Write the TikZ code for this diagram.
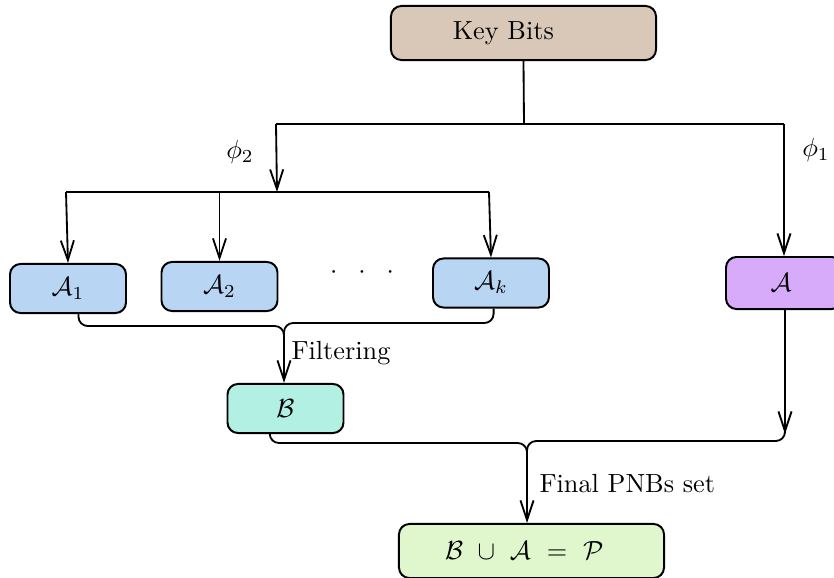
\documentclass[tikz,border=0pt]{standalone}
\usetikzlibrary{arrows.meta}
\definecolor{kbcol}{HTML}{D9C7B8}
\definecolor{acol}{HTML}{B9D5F4}
\definecolor{pcol}{HTML}{D7ABFA}
\definecolor{bcol}{HTML}{B1F0E3}
\definecolor{fcol}{HTML}{E0F7CD}
\tikzset{
  box/.style={draw=black, line width=0.75pt, rounded corners=4pt, inner sep=0pt, align=center},
  smallbox/.style={box, minimum width=1.554cm, minimum height=0.657cm},
  bigbox/.style={box, minimum width=3.551cm, minimum height=0.724cm},
  conn/.style={line width=0.7pt},
  arr/.style={conn, -{Straight Barb[length=7.5pt,width=5pt]}},
  brace/.style={conn, rounded corners=3.5pt},
}
\begin{document}
\begin{tikzpicture}[x=0.0134cm, y=-0.0134cm]
\useasboundingbox (0,0) rectangle (834,578);
% nodes
\node[bigbox, fill=kbcol] (kb) at (523.5,33) {Key Bits\hspace{0.54cm}};
\node[smallbox, fill=acol] (a1) at (68,288.5) {$\mathcal{A}_1$};
\node[smallbox, fill=acol] (a2) at (219.5,286.5) {$\mathcal{A}_2$};
\node[smallbox, fill=acol] (ak) at (491,283) {$\mathcal{A}_k$};
\node[smallbox, fill=pcol, minimum height=0.697cm] (a) at (784,283) {\hspace{-0.08cm}$\mathcal{A}$};
\node[smallbox, fill=bcol] (b) at (285.5,408.5) {$\mathcal{B}$};
\node[bigbox, fill=fcol] (p) at (531.5,551) {$\mathcal{B}\ \cup\ \mathcal{A}\ =\ \mathcal{P}$\hspace{0.19cm}};
\node (dots) at (362,273) {${\cdot}\hspace{8pt}{\cdot}\hspace{8pt}{\cdot}$};
% labels
\node (phi2) at (240,152) {$\phi_2$};
\node (phi1) at (816,150) {$\phi_1$};
\node[anchor=west, inner sep=0pt] (filt) at (291,353) {Filtering};
\node[anchor=west, inner sep=0pt] (fin) at (539,484) {Final PNBs set};
% coordinates
\coordinate (s1) at (524,124);
\coordinate (s1l) at (276,124);
\coordinate (s1r) at (784,124);
\coordinate (s2) at (277,192);
\coordinate (s2l) at (66,192);
\coordinate (s2m) at (219.5,192);
\coordinate (s2r) at (489,192);
\coordinate (j1) at (284,342);
\coordinate (j1a) at (284,326);
\coordinate (j1b) at (284,323);
\coordinate (j2) at (527,460);
\coordinate (j2a) at (527,443);
\coordinate (j2b) at (527,441);
\coordinate (atip) at (785,434);
\coordinate (abend) at (785,425);
% top tree
\draw[conn] (kb.south) -- (s1);
\draw[conn] (s1l) -- (s1r);
\draw[arr] (s1l) -- (s2);
\draw[arr] (s1r) -- (a.north);
\draw[conn] (s2l) -- (s2r);
\draw[arr] (s2l) -- (a1.north);
\draw[arr] (s2m) -- (a2.north);
\draw[arr] (s2r) -- (ak.north);
% filtering brace
\draw[brace] ([xshift=4pt]a1.south) |- (j1a) -- (j1);
\draw[brace] ([xshift=1pt]ak.south) |- (j1b) -- (j1);
\draw[arr] (j1) -- (j1 |- b.north);
% final brace
\draw[brace] ([xshift=-6pt]b.south) |- (j2a) -- (j2);
\draw[arr] (a.south -| atip) -- (atip);
\draw[brace] (abend) |- (j2b) -- (j2);
\draw[arr] (j2) -- (j2 |- p.north);
\end{tikzpicture}
\end{document}
